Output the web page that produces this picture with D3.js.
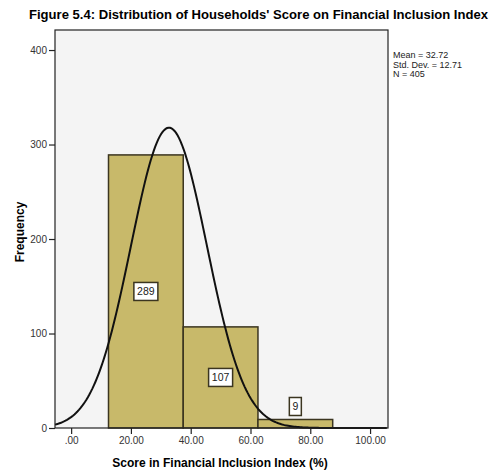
<!DOCTYPE html>
<html>
<head>
<meta charset="utf-8">
<script src="https://cdn.jsdelivr.net/npm/d3@7"></script>
<style>
  body { margin: 0; background: #fff; }
  text { font-family: "Liberation Sans", Arial, sans-serif; }
</style>
</head>
<body>
<div id="chart"></div>
<script>
// histogram bins (score %), counts
var binStart = [12.5, 37.5, 62.5];
var binEnd = [37.5, 62.5, 87.5];
var counts = [289, 107, 9];
var xTicks = [0, 20, 40, 60, 80, 100];
var yTicks = [0, 100, 200, 300, 400];
var statLines = ["Mean = 32.72", "Std. Dev. = 12.71", "N = 405"];
var mean = 32.72, sd = 12.71, n = 405;

var W = 497, H = 474;
var plot = { left: 55, right: 388, top: 30, bottom: 428 };

var svg = d3.select("#chart").append("svg")
    .attr("width", W)
    .attr("height", H);

var x = d3.scaleLinear().domain([-5.4, 106]).range([plot.left, plot.right]);
var y = d3.scaleLinear().domain([0, 421.2]).range([plot.bottom, plot.top]);

// title
svg.append("text")
    .attr("x", 29).attr("y", 19)
    .attr("textLength", 459)
    .attr("lengthAdjust", "spacingAndGlyphs")
    .style("font-size", "13px")
    .style("font-weight", "bold")
    .text("Figure 5.4: Distribution of Households' Score on Financial Inclusion Index");

// plot background
svg.append("rect")
    .attr("x", plot.left).attr("y", plot.top)
    .attr("width", plot.right - plot.left)
    .attr("height", plot.bottom - plot.top)
    .attr("fill", "#f4f4f4");

// bars
svg.append("g").selectAll("rect")
    .data(counts)
    .enter().append("rect")
    .attr("x", function (d, i) { return x(binStart[i]); })
    .attr("y", function (d) { return y(d); })
    .attr("width", function (d, i) { return x(binEnd[i]) - x(binStart[i]); })
    .attr("height", function (d) { return y(0) - y(d); })
    .attr("fill", "#c8b96a")
    .attr("stroke", "#3b3520")
    .attr("stroke-width", 1.5);

// normal curve scaled to counts (bin width 25)
var bw = binEnd[0] - binStart[0];
var curvePts = d3.range(-5.4, 106.01, 0.5).map(function (v) {
    var z = (v - mean) / sd;
    return [v, n * bw / (sd * Math.sqrt(2 * Math.PI)) * Math.exp(-0.5 * z * z)];
});
svg.append("path")
    .datum(curvePts)
    .attr("fill", "none")
    .attr("stroke", "#111")
    .attr("stroke-width", 2)
    .attr("d", d3.line()
        .x(function (d) { return x(d[0]); })
        .y(function (d) { return y(d[1]); }));

// count labels in boxes
var lab = svg.append("g").selectAll("g")
    .data(counts)
    .enter().append("g")
    .attr("transform", function (d, i) {
        var cx = x((binStart[i] + binEnd[i]) / 2);
        var cy = d < 30 ? y(d) - 13 : y(d / 2);
        return "translate(" + cx + "," + cy + ")";
    });
lab.append("rect")
    .attr("x", function (d) { return -(String(d).length * 3 + 3); })
    .attr("y", -9)
    .attr("width", function (d) { return String(d).length * 6 + 6; })
    .attr("height", 18)
    .attr("fill", "#fff")
    .attr("stroke", "#3b3520")
    .attr("stroke-width", 1.5);
lab.append("text")
    .attr("text-anchor", "middle")
    .attr("dy", "0.35em")
    .style("font-size", "10.5px")
    .attr("fill", "#222")
    .text(function (d) { return d; });

// frame
svg.append("rect")
    .attr("x", plot.left).attr("y", plot.top)
    .attr("width", plot.right - plot.left)
    .attr("height", plot.bottom - plot.top)
    .attr("fill", "none")
    .attr("stroke", "#222")
    .attr("stroke-width", 1.2);

// axes
var yAxis = svg.append("g")
    .attr("transform", "translate(" + plot.left + ",0)")
    .call(d3.axisLeft(y).tickValues(yTicks).tickSize(6).tickPadding(2).tickFormat(d3.format("d")));
var xAxis = svg.append("g")
    .attr("transform", "translate(0," + plot.bottom + ")")
    .call(d3.axisBottom(x).tickValues(xTicks).tickSize(6).tickPadding(3)
        .tickFormat(function (d) { return d === 0 ? ".00" : d.toFixed(2); }));
[yAxis, xAxis].forEach(function (g) {
    g.select(".domain").remove();
    g.selectAll(".tick line").attr("stroke", "#222").attr("stroke-width", 1.2);
    g.selectAll(".tick text")
        .style("font-family", "'Liberation Sans Narrow', 'Liberation Sans', sans-serif")
        .style("font-size", "10px")
        .attr("fill", "#333");
});

// axis titles
svg.append("text")
    .attr("transform", "translate(24,232) rotate(-90)")
    .attr("text-anchor", "middle")
    .style("font-size", "12px")
    .style("font-weight", "bold")
    .text("Frequency");
svg.append("text")
    .attr("x", 220).attr("y", 467)
    .attr("text-anchor", "middle")
    .style("font-size", "12px")
    .style("font-weight", "bold")
    .text("Score in Financial Inclusion Index (%)");

// stats
svg.append("g").selectAll("text")
    .data(statLines)
    .enter().append("text")
    .attr("x", 393)
    .attr("y", function (d, i) { return 58 + i * 9.5; })
    .style("font-family", "'Liberation Sans Narrow', 'Liberation Sans', sans-serif")
    .style("font-size", "9px")
    .attr("fill", "#222")
    .text(function (d) { return d; });
</script>
</body>
</html>
